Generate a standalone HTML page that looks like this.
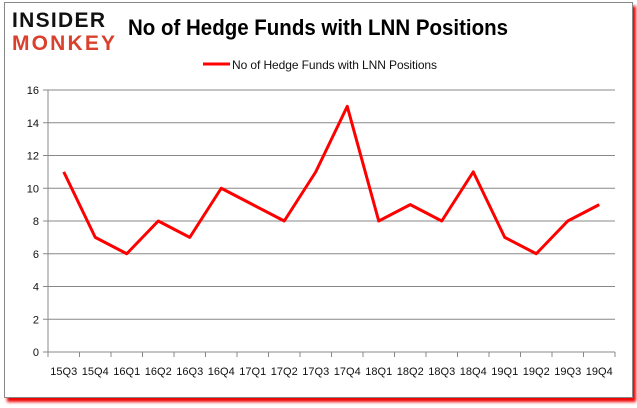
<!DOCTYPE html>
<html><head><meta charset="utf-8"><style>
body{margin:0;background:#fff;width:637px;height:408px;overflow:hidden;font-family:"Liberation Sans",sans-serif}
#frame{position:absolute;left:4px;top:2px;width:627px;height:394px;border:1px solid #888;background:#fff;box-shadow:3px 4px 3px #e00}
</style></head><body>
<div id="frame"></div>
<svg width="637" height="408" style="position:absolute;left:0;top:0">
<text x="12" y="27" font-size="21" font-weight="bold" fill="#111" textLength="93">INSIDER</text>
<text x="12" y="50" font-size="21" font-weight="bold" fill="#d9412e" textLength="103">MONKEY</text>
<text x="128" y="35" font-size="22" font-weight="bold" fill="#000" textLength="380" lengthAdjust="spacingAndGlyphs">No of Hedge Funds with LNN Positions</text>
<line x1="203" y1="64" x2="230" y2="64" stroke="red" stroke-width="3"/>
<text x="232" y="69" font-size="12" fill="#111" textLength="205">No of Hedge Funds with LNN Positions</text>
<g id="grid"></g><g id="axes"></g><polyline id="line" fill="none" stroke="red" stroke-width="3" stroke-linejoin="round"/>
</svg>
<script>
const categories=["15Q3","15Q4","16Q1","16Q2","16Q3","16Q4","17Q1","17Q2","17Q3","17Q4","18Q1","18Q2","18Q3","18Q4","19Q1","19Q2","19Q3","19Q4"];
const values=[11,7,6,8,7,10,9,8,11,15,8,9,8,11,7,6,8,9];
const yTicks=[0,2,4,6,8,10,12,14,16];
const L=48,R=615,T=90,B=352,ymax=16;
const step=(R-L)/categories.length;
const x=i=>L+step*(i+0.5), y=v=>B-(B-T)*v/ymax;
const ns="http://www.w3.org/2000/svg";
const g=document.getElementById('grid'),a=document.getElementById('axes');
function mk(tag,attrs,parent){const e=document.createElementNS(ns,tag);for(const k in attrs)e.setAttribute(k,attrs[k]);parent.appendChild(e);return e;}
yTicks.forEach(v=>{
 const ln=mk('line',{x1:L,x2:R,y1:y(v),y2:y(v),stroke:'#888','stroke-width':1},g);
 
 
 const tk=mk('line',{x1:L-5,x2:L,y1:y(v),y2:y(v),stroke:'#888'},a);
 
 
 const t=mk('text',{x:L-9,y:y(v)+4,'text-anchor':'end','font-size':11,fill:'#111'},a);
 t.textContent=v;
 
 
});
const ax=mk('line',{x1:L,x2:L,y1:T,y2:B,stroke:'#888'},a);


for(let i=0;i<=categories.length;i++){
 const tk=mk('line',{x1:L+step*i,x2:L+step*i,y1:B,y2:B+5,stroke:'#888'},a);
 
 
}
categories.forEach((c,i)=>{
 const t=mk('text',{x:x(i),y:B+23,'text-anchor':'middle','font-size':11,fill:'#111'},a);
 t.textContent=c;
 
 
});
document.getElementById('line').setAttribute('points',values.map((v,i)=>x(i)+','+y(v)).join(' '));
</script>
</body></html>
